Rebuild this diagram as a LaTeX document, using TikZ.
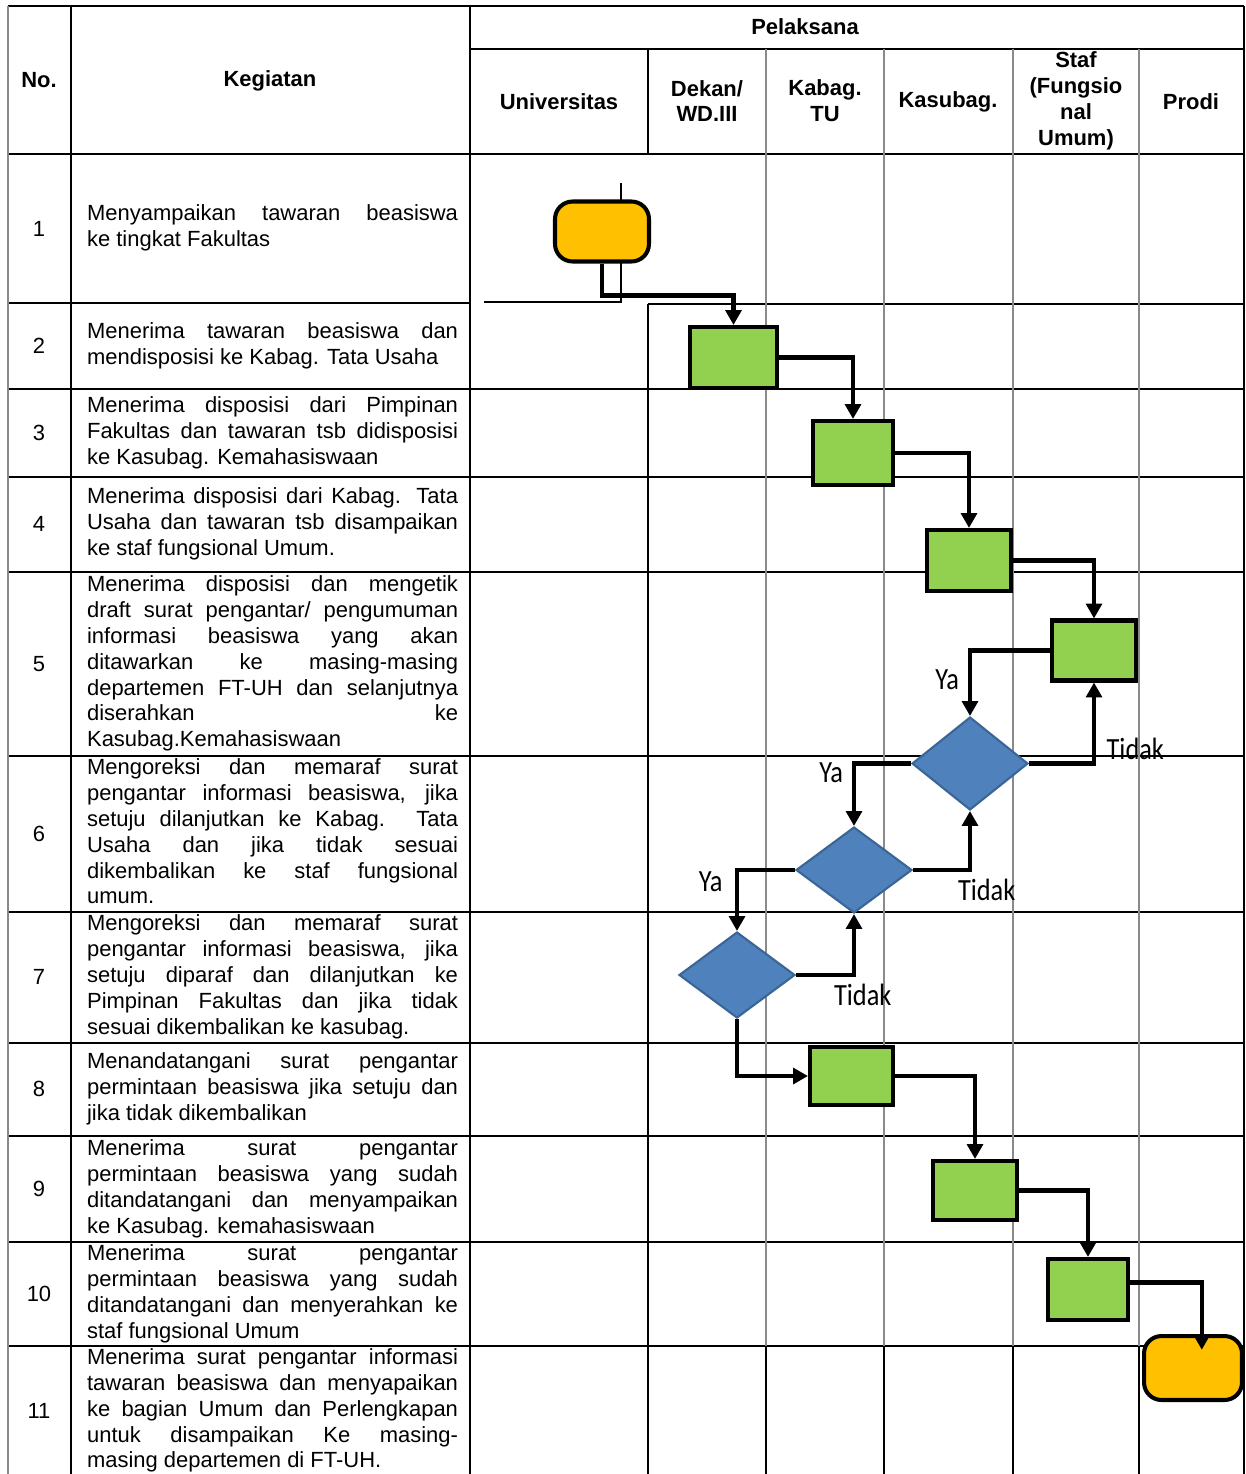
\documentclass[tikz,border=0pt]{standalone}
\usepackage{fontspec}
\setmainfont{Liberation Sans}
\newfontfamily\calibri{Carlito}
\usetikzlibrary{arrows.meta,shapes.geometric}

\definecolor{oranye}{HTML}{FFC000}
\definecolor{hijau}{HTML}{92D050}
\definecolor{biru}{HTML}{4F81BD}
\definecolor{birutua}{HTML}{3A6595}
\definecolor{abu}{HTML}{8A8A8A}

\tolerance=10000
\hbadness=10000
\hyphenpenalty=10000
\exhyphenpenalty=10000

\newcommand{\ket}[1]{\scalebox{1}[1.17]{#1}}

\begin{document}
\begin{tikzpicture}[x=0.02cm,y=-0.02cm,->,>={Triangle[length=8.5pt,width=9pt]},
                    line width=2.4pt,font=\fontsize{12.5}{14.74}\selectfont]
  \tikzstyle{proses}=[rectangle,fill=hijau,draw=black,line width=2.3pt,
                      minimum width=1.68cm,minimum height=1.22cm,inner sep=0pt]
  \tikzstyle{terminal}=[rectangle,rounded corners=10pt,fill=oranye,draw=black,
                        line width=2.3pt,minimum width=1.88cm,minimum height=1.2cm,inner sep=0pt]
  \tikzstyle{keputusan}=[diamond,fill=biru,draw=birutua,line width=1.2pt,
                         minimum width=2.32cm,minimum height=1.72cm,inner sep=0pt]
  \tikzstyle{garis}=[-,draw=black,line width=1.3pt]
  \tikzstyle{garistipis}=[-,draw=black,line width=0.6pt]
  \tikzstyle{garisabu}=[-,draw=abu,line width=0.8pt]
  \tikzstyle{kepala}=[font=\fontsize{12.5}{14.74}\selectfont\bfseries,align=center]
  \tikzstyle{keg}=[anchor=west,text width=7.42cm,inner sep=0pt,align=justify,
                   execute at begin node=\strut,execute at end node=\strut]
  \tikzstyle{ket}=[font=\calibri\fontsize{15}{18}\selectfont,inner sep=1pt]

  \useasboundingbox (0,0) rectangle (1246,1474);

  % garis tabel
  \draw[garis] (8,6) -- (1244,6);
  \draw[garis] (470,49) -- (1244,49);
  \draw[garis] (8,154) -- (1244,154);
  \draw[garis] (8,303) -- (470,303);
  \draw[garistipis] (484,302) -- (621,302) -- (621,183);
  \draw[garis] (648,304) -- (1244,304);
  \draw[garis] (8,389) -- (1244,389);
  \draw[garis] (8,477) -- (1244,477);
  \draw[garis] (8,572) -- (1244,572);
  \draw[garis] (8,756) -- (1244,756);
  \draw[garis] (8,912) -- (1244,912);
  \draw[garis] (8,1043) -- (1244,1043);
  \draw[garis] (8,1136) -- (1244,1136);
  \draw[garis] (8,1242) -- (1244,1242);
  \draw[garis] (8,1346) -- (1244,1346);
  \draw[garisabu,line width=1.6pt] (8,6) -- (8,1474);
  \draw[garis] (1244,6) -- (1244,1474);
  \draw[garistipis] (71,6) -- (71,1474);
  \draw[garistipis] (470,6) -- (470,1346);
  \draw[garis] (470,1346) -- (470,1474);
  \draw[garistipis] (648,49) -- (648,154) (648,304) -- (648,1474);
  \draw[garisabu] (766,49) -- (766,1346) (884,49) -- (884,1346)
                  (1013,49) -- (1013,1346) (1139,49) -- (1139,1346);
  \draw[garis] (766,1346) -- (766,1474) (1013,1346) -- (1013,1474);
  \draw[garistipis] (884,1346) -- (884,1474) (1139,1346) -- (1139,1474);

  % judul kolom
  \node[kepala] (hno)    at (39,80)    {No.};
  \node[kepala] (hkeg)   at (270,81)   {Kegiatan};
  \node[kepala] (hpel)   at (805,27)   {Pelaksana};
  \node[kepala] (huniv)  at (559,102)  {Universitas};
  \node[kepala] (hdekan) at (707,101)  {Dekan/\\WD.III};
  \node[kepala] (hkabag) at (825,101)  {Kabag.\\TU};
  \node[kepala] (hkasub) at (948,102)  {Kasubag.};
  \node[kepala] (hstaf)  at (1076,101) {Staf\\(Fungsio\\nal\\Umum)};
  \node[kepala] (hprodi) at (1191,102) {Prodi};

  % nomor
  \node (n1)  at (39,229)  {1};
  \node (n2)  at (39,346)  {2};
  \node (n3)  at (39,433)  {3};
  \node (n4)  at (39,524)  {4};
  \node (n5)  at (39,664)  {5};
  \node (n6)  at (39,834)  {6};
  \node (n7)  at (39,977)  {7};
  \node (n8)  at (39,1089) {8};
  \node (n9)  at (39,1189) {9};
  \node (n10) at (39,1294) {10};
  \node (n11) at (39,1411) {11};

  % kegiatan
  \node[keg] (k1)  at (85,228.5) {Menyampaikan tawaran beasiswa\linebreak ke tingkat Fakultas};
  \node[keg] (k2)  at (85,346)   {Menerima tawaran beasiswa dan\linebreak mendisposisi ke Kabag. Tata Usaha};
  \node[keg] (k3)  at (85,433)   {Menerima disposisi dari Pimpinan\linebreak Fakultas dan tawaran tsb didisposisi\linebreak ke Kasubag. Kemahasiswaan};
  \node[keg] (k4)  at (85,524.5) {Menerima disposisi dari Kabag. Tata\linebreak Usaha dan tawaran tsb disampaikan\linebreak ke staf fungsional Umum.};
  \node[keg] (k5)  at (85,664)   {Menerima disposisi dan mengetik\linebreak draft surat pengantar/ pengumuman\linebreak informasi beasiswa yang akan\linebreak ditawarkan ke masing-masing\linebreak departemen FT-UH dan selanjutnya\linebreak diserahkan ke\linebreak Kasubag.Kemahasiswaan};
  \node[keg] (k6)  at (85,834)   {Mengoreksi dan memaraf surat\linebreak pengantar informasi beasiswa, jika\linebreak setuju dilanjutkan ke Kabag. Tata\linebreak Usaha dan jika tidak sesuai\linebreak dikembalikan ke staf fungsional\linebreak umum.};
  \node[keg] (k7)  at (85,977.5) {Mengoreksi dan memaraf surat\linebreak pengantar informasi beasiswa, jika\linebreak setuju diparaf dan dilanjutkan ke\linebreak Pimpinan Fakultas dan jika tidak\linebreak sesuai dikembalikan ke kasubag.};
  \node[keg] (k8)  at (85,1089.5) {Menandatangani surat pengantar\linebreak permintaan beasiswa jika setuju dan\linebreak jika tidak dikembalikan};
  \node[keg] (k9)  at (85,1189)  {Menerima surat pengantar\linebreak permintaan beasiswa yang sudah\linebreak ditandatangani dan menyampaikan\linebreak ke Kasubag. kemahasiswaan};
  \node[keg] (k10) at (85,1294)  {Menerima surat pengantar\linebreak permintaan beasiswa yang sudah\linebreak ditandatangani dan menyerahkan ke\linebreak staf fungsional Umum};
  \node[keg] (k11) at (85,1411)  {Menerima surat pengantar informasi\linebreak tawaran beasiswa dan menyapaikan\linebreak ke bagian Umum dan Perlengkapan\linebreak untuk disampaikan Ke masing-\linebreak masing departemen di FT-UH.};

  % bagan alir
  \node[terminal] (mulai) at (602,231.5) {};
  \node[proses,minimum width=1.74cm] (p2) at (733.5,357.5) {};
  \node[proses,minimum width=1.6cm,minimum height=1.28cm] (p3) at (853,453) {};
  \node[proses] (p4) at (969,560.5) {};
  \node[proses,minimum height=1.2cm] (p5) at (1094,650.5) {};
  \node[keputusan,minimum height=1.86cm] (cek1) at (970,763.5) {};
  \node[keputusan] (cek2) at (854,870) {};
  \node[keputusan] (cek3) at (737,975) {};
  \node[proses,minimum width=1.66cm,minimum height=1.16cm] (p8) at (851.5,1076) {};
  \node[proses,minimum height=1.18cm] (p9) at (975,1190.5) {};
  \node[proses,minimum width=1.6cm] (p10) at (1088,1289.5) {};
  \node[terminal,minimum width=1.96cm,minimum height=1.28cm] (selesai) at (1193,1368) {};

  \draw (mulai.south) -- ++(0,32) -| (p2.north);
  \draw (p2.east) -| (p3.north);
  \draw (p3.east) -| (p4.north);
  \draw (p4.east) -| (p5.north);
  \draw (p5.west) -| node[ket,pos=0.72,left=4pt] (ya1) {\ket{Ya}} (cek1.north);
  \draw (cek1.east) -| node[ket,pos=0.5,anchor=south west,xshift=5pt] (tidak1) {\ket{Tidak}} (p5.south);
  \draw (cek1.west) -| node[ket,pos=0.57,left=4pt] (ya2) {\ket{Ya}} (cek2.north);
  \draw (cek2.east) -| node[ket,pos=0.5,below=3pt,xshift=9.5pt] (tidak2) {\ket{Tidak}} (cek1.south);
  \draw (cek2.west) -| node[ket,pos=0.6,left=6pt] (ya3) {\ket{Ya}} (cek3.north);
  \draw (cek3.east) -| node[ket,pos=0.5,below=3pt,xshift=5pt] (tidak3) {\ket{Tidak}} (cek2.south);
  \draw (cek3.south) |- (p8.west);
  \draw (p8.east) -| (p9.north);
  \draw (p9.east) -| (p10.north);
  \draw[shorten >=-9pt] ([yshift=4pt]p10.east) -| ([xshift=5pt]selesai.north);
\end{tikzpicture}
\end{document}
